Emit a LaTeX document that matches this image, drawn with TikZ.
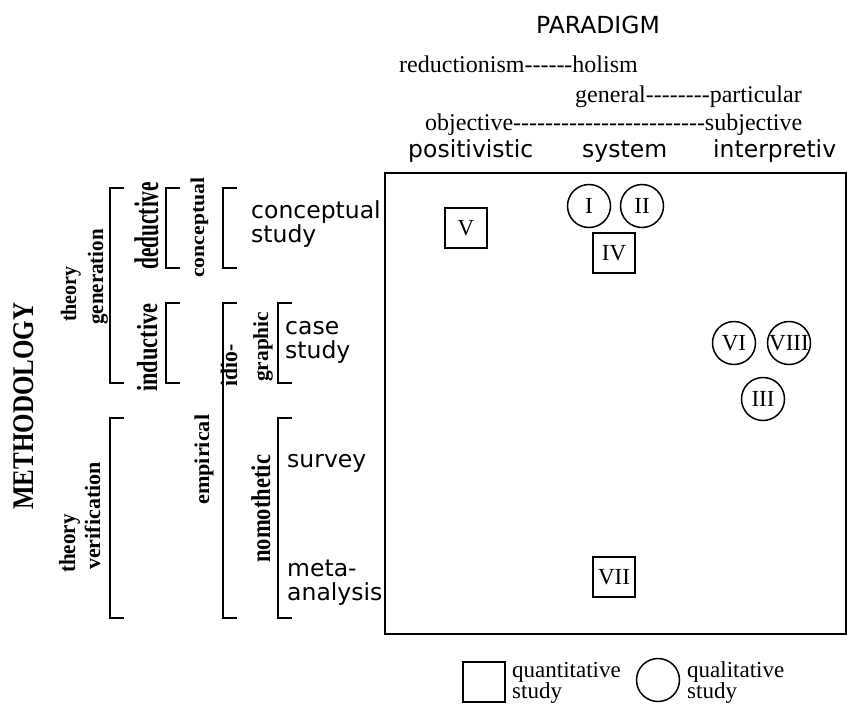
\documentclass[tikz,border=0pt]{standalone}
\usepackage{fontspec}
\usepackage{graphicx}
\newfontfamily\tms{Liberation Serif}
\newfontfamily\gen{DejaVu Sans}
\def\hyphs#1{\ifnum#1>0 -\kern0pt\expandafter\hyphs\expandafter{\the\numexpr#1-1\relax}\fi}
\newcommand\rlab[3]{\scalebox{1}[#2]{\fontsize{#1}{#1}\tms\bfseries #3}}
\tikzset{
  sanstxt/.style={font=\fontsize{23.5}{24}\gen, inner sep=0pt, anchor=base west, align=left},
  sertxt/.style={font=\fontsize{24}{26}\tms, inner sep=0pt, anchor=base west},
  rottxt/.style={inner sep=0pt, anchor=base west, rotate=90},
  brk/.style={line width=1.6pt},
  quant/.style={draw, line width=1.5pt, minimum width=42pt, minimum height=40pt, inner sep=0pt, font=\fontsize{23}{23}\tms},
  qual/.style={draw, circle, line width=1.5pt, minimum size=43pt, inner sep=0pt, font=\fontsize{23}{23}\tms},
  legtxt/.style={font=\fontsize{23}{21}\tms, inner sep=0pt, anchor=base west, align=left},
}
\begin{document}
\begin{tikzpicture}[x=1pt,y=-1pt]
\useasboundingbox (0,0) rectangle (851,704);
% main box
\draw[line width=2pt] (385,173) rectangle (846,634);
% header
\node[inner sep=0pt, anchor=base, font=\fontsize{23.5}{25}\gen] (par) at (598,33) {PARADIGM};
\node[sertxt] (rh) at (399,72) {reductionism\hyphs{6}holism};
\node[sertxt] (gp) at (575,102) {general\hyphs{8}particular};
\node[sertxt] (os) at (425,130) {objective\hyphs{24}subjective};
\node[sanstxt] (pos) at (408,157) {positivistic};
\node[sanstxt] (sys) at (582,157) {system};
\node[sanstxt] (int) at (713,157) {interpretiv};
% studies
\node[quant] (V) at (466,228) {V};
\node[qual] (I) at (589,206) {I};
\node[qual] (II) at (642,206) {II};
\node[quant] (IV) at (614,253) {IV};
\node[qual] (VI) at (734,343) {VI};
\node[qual] (VIII) at (789,343) {VIII};
\node[qual] (III) at (763,399) {III};
\node[quant] (VII) at (614,577) {VII};
% legend
\node[quant] (lq) at (484,682) {};
\node[legtxt] (lqt) at (512,698) {quantitative\\study};
\node[qual] (lc) at (658,680) {};
\node[legtxt] (lct) at (687,698) {qualitative\\study};
% brackets
\foreach \x/\t/\b in {110/188/383, 166/188/268, 223/188/268, 166/303/383, 223/303/618, 278/303/383, 110/418/618, 278/418/618}
  \draw[brk] (\x+14,\t) -- (\x,\t) -- (\x,\b) -- (\x+14,\b);
% right-hand sans labels
\node[sanstxt] (cs) at (251,242) {conceptual\\study};
\node[sanstxt] (cas) at (285,358) {case\\study};
\node[sanstxt] (sur) at (287,467) {survey};
\node[sanstxt] (meta) at (287,600) {meta-\\analysis};
% rotated labels
\node[rottxt] (meth) at (33,510) {\rlab{25}{1.2}{METHODOLOGY}};
\node[rottxt] (tg1) at (76,322) {\rlab{20}{1.1}{theory}};
\node[rottxt] (tg2) at (103,325) {\rlab{21}{1.05}{generation}};
\node[rottxt] (ded) at (158,270) {\rlab{21.4}{1.6}{deductive}};
\node[rottxt] (con) at (204,278) {\rlab{21.7}{0.9}{conceptual}};
\node[rottxt] (ind) at (157,392) {\rlab{22.4}{1.3}{inductive}};
\node[rottxt] (id1) at (237,387) {\rlab{21.6}{1.1}{idio-}};
\node[rottxt] (id2) at (268,382) {\rlab{21.4}{1.0}{graphic}};
\node[rottxt] (tv1) at (75,573) {\rlab{21}{1.1}{theory}};
\node[rottxt] (tv2) at (100,570) {\rlab{22}{1.0}{verification}};
\node[rottxt] (emp) at (209,505) {\rlab{22.2}{0.95}{empirical}};
\node[rottxt] (nom) at (270,563) {\rlab{22.6}{1.2}{nomothetic}};
\end{tikzpicture}
\end{document}
